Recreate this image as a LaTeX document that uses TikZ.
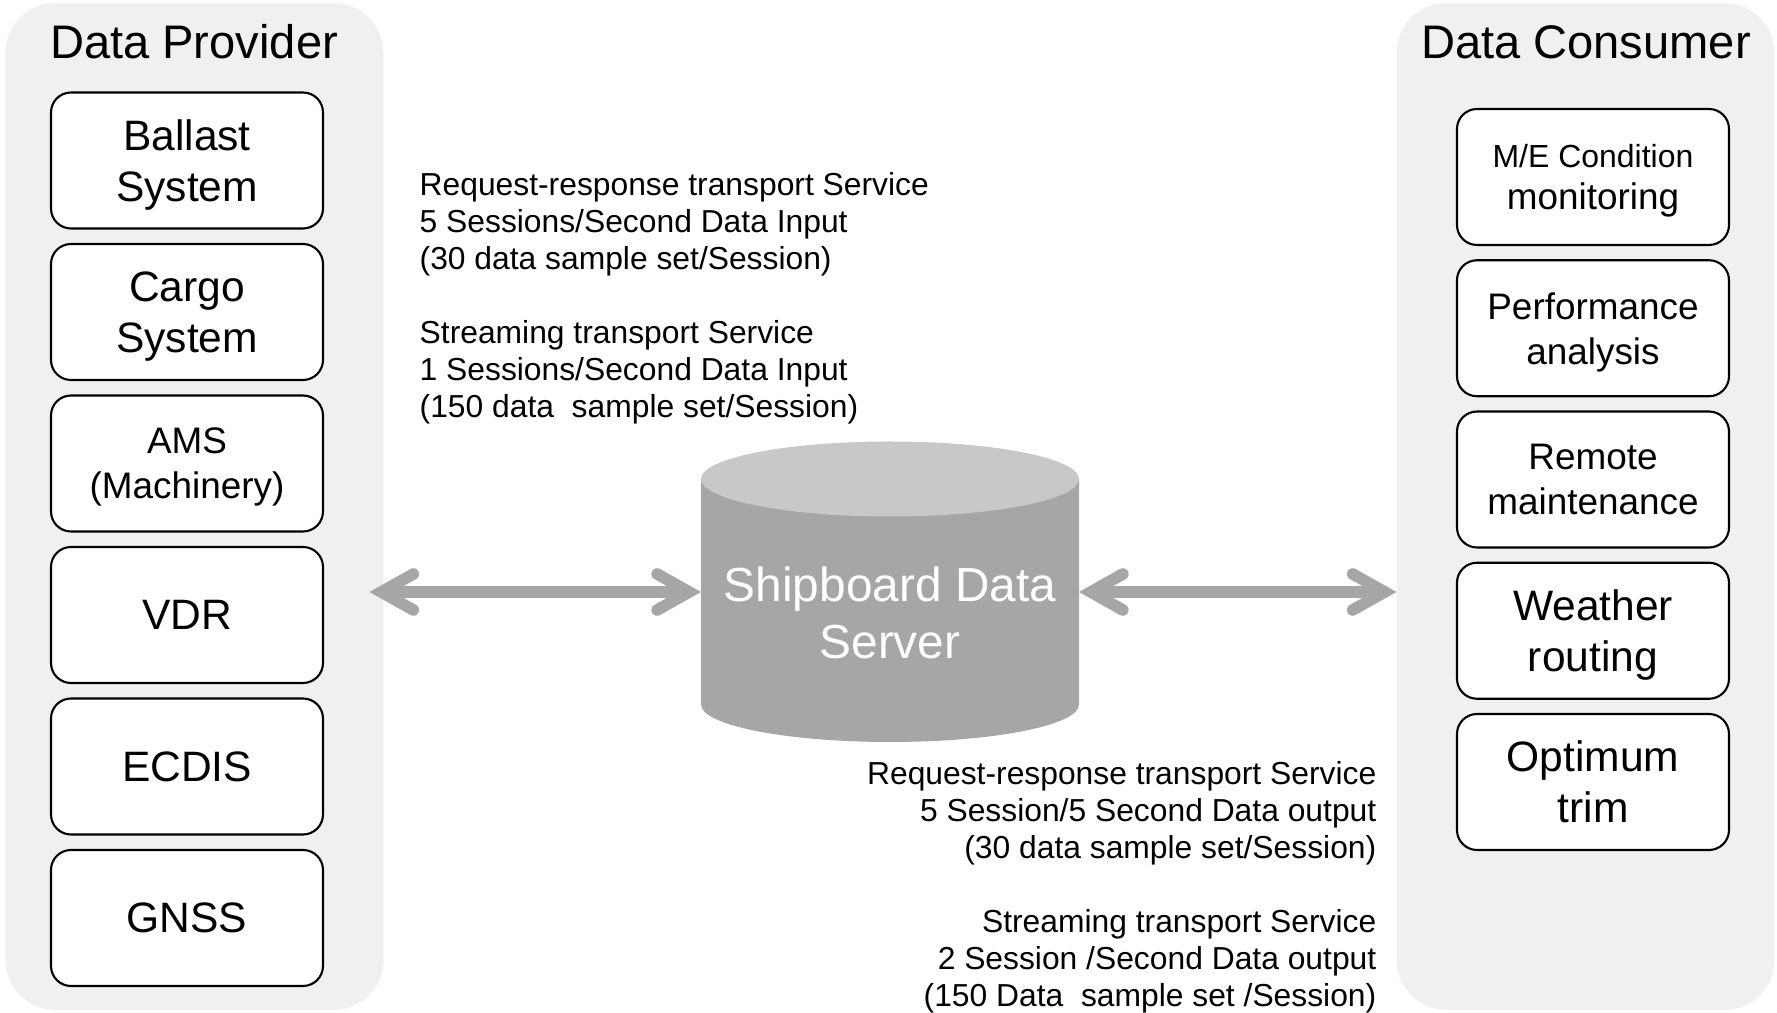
\documentclass[tikz,border=0pt]{standalone}
\usepackage{fontspec}
\setmainfont{Liberation Sans}
\usetikzlibrary{positioning,arrows.meta}

\definecolor{panelgray}{HTML}{F0F0F0}
\definecolor{srvgray}{HTML}{A6A6A6}
\definecolor{srvtop}{HTML}{C8C8C8}

% a line whose descenders do not count for centring
\newcommand{\flatline}[1]{\raisebox{0pt}[\height][0pt]{#1}}

\tikzset{
  panel/.style={fill=panelgray, rounded corners=0.5cm, minimum width=3.78cm,
    minimum height=10.07cm, inner sep=0pt, outer sep=0pt},
  hdr/.style={font=\fontsize{13.4}{16}\selectfont, anchor=base, inner sep=0pt},
  unitbox/.style={draw, line width=0.6pt, fill=white, rounded corners=0.2cm,
    minimum width=2.72cm, minimum height=1.36cm, align=center, inner sep=0pt,
    outer sep=0pt, font=\fontsize{12.1}{14.5}\selectfont},
  smallbox/.style={unitbox, font=\fontsize{10.5}{12.8}\selectfont},
  note/.style={font=\fontsize{9.05}{10.5}\selectfont, inner sep=0pt},
  srvtext/.style={text=white, align=center, inner sep=0pt,
    font=\fontsize{13.6}{16.2}\selectfont},
  link/.style={draw=srvgray, line width=3.3pt,
    >={Straight Barb[length=3.2mm,width=3.6mm,line cap=round]}, <->},
}

\begin{document}
\begin{tikzpicture}
  \useasboundingbox (0,0) rectangle (17.77,10.13);
  % the two sides
  \node[panel] (provider) at (1.945,5.065) {};
  \node[panel] (consumer) at (15.855,5.065) {};
  \node[hdr] (provtitle) at (1.94,9.54) {Data Provider};
  \node[hdr] (constitle) at (15.86,9.54) {Data Consumer};

  % provider systems
  \node[unitbox] (ballast) at (1.87,8.525) {Ballast\\\flatline{System}};
  \node[unitbox, below=1.55mm of ballast] (cargo) {Cargo\\\flatline{System}};
  \node[smallbox, below=1.55mm of cargo] (ams) {AMS\\\flatline{(Machinery)}};
  \node[unitbox, below=1.55mm of ams] (vdr) {VDR};
  \node[unitbox, below=1.55mm of vdr] (ecdis) {ECDIS};
  \node[unitbox, below=1.55mm of ecdis] (gnss) {GNSS};

  % consumer applications
  \node[smallbox, font=\fontsize{10.5}{12}\selectfont] (mecond) at (15.93,8.36)
    {{\fontsize{9.1}{12}\selectfont M/E Condition}\\\flatline{monitoring}};
  \node[smallbox, below=1.525mm of mecond] (perf) {Performance\\\flatline{analysis}};
  \node[smallbox, below=1.525mm of perf] (remote) {Remote\\maintenance};
  \node[unitbox, below=1.525mm of remote] (weather) {Weather\\\flatline{routing}};
  \node[unitbox, below=1.525mm of weather] (trim) {Optimum\\trim};

  % server
  \node[minimum width=3.78cm, minimum height=3cm, inner sep=0pt, outer sep=0pt] (server) at (8.90,4.21) {};
  \fill[srvgray] (7.01,5.34) -- (7.01,3.085)
    arc[start angle=180, end angle=360, x radius=1.89, y radius=0.375] -- (10.79,5.34) -- cycle;
  \fill[srvtop] (8.90,5.34) ellipse [x radius=1.89, y radius=0.375];
  \node[srvtext] (srvlabel) at (8.90,4.00) {Shipboard Data\\Server};

  % transport notes
  \node[note, anchor=north west, align=left] (reqin) at (4.19,8.41)
    {Request-response transport Service\\5 Sessions/Second Data Input\\(30 data sample set/Session)};
  \node[note, anchor=north west, align=left] (strin) at (4.19,6.93)
    {Streaming transport Service\\1 Sessions/Second Data Input\\(150 data\ \ sample set/Session)};
  \node[note, anchor=north east, align=right] (reqout) at (13.77,2.52)
    {Request-response transport Service\\5 Session/5 Second Data output\\(30 data sample set/Session)};
  \node[note, anchor=north east, align=right] (strout) at (13.77,1.045)
    {Streaming transport Service\\2 Session /Second Data output\\(150 Data\ \ sample set /Session)};

  % links
  \path (server.west -| provider.east) ++(-0.14,0) coordinate (provtip);
  \draw[link] (provtip) -- (server.west);
  \draw[link] (server.east) -- (server.east -| consumer.west);
\end{tikzpicture}
\end{document}
